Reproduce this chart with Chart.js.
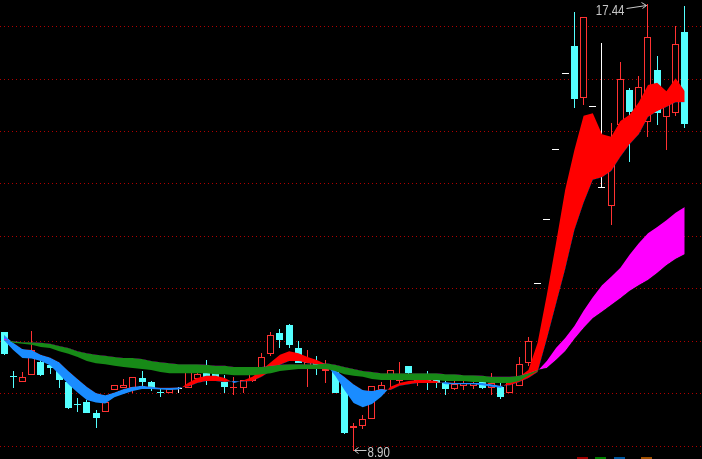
<!DOCTYPE html>
<html lang="zh">
<head>
<meta charset="UTF-8">
<title>日K线</title>
<script src="https://cdn.jsdelivr.net/npm/chart.js"></script>
<style>
  html, body { margin: 0; padding: 0; background: #000; }
  #wrap { width: 702px; height: 459px; }
</style>
</head>
<body>
<div id="wrap"><canvas id="kline" width="702" height="459"></canvas></div>
<script>
// daily prices (one entry per trading day)
const openPx = [11.18, 10.32, 10.22, 10.35, 10.60, 10.55, 10.45, 10.22, 9.80, 9.84,
  9.63, 9.65, 10.07, 10.11, 10.11, 10.30, 10.22, 10.03, 10.01, 10.09,
  10.11, 10.28, 10.41, 10.39, 10.22, 10.10, 10.11, 10.24, 10.49, 10.76,
  11.16, 11.31, 10.87, 10.49, 10.60, 10.43, 10.41, 10.16, 9.34, 9.38,
  9.52, 10.07, 10.28, 10.24, 10.53, 10.20, 10.32, 10.26, 10.20, 10.09,
  10.15, 10.15, 10.24, 10.11, 10.13, 10.01, 10.15, 10.58, 12.10, 13.31,
  14.64, 16.10, 16.63, 15.64, 15.47, 13.92, 13.58, 15.13, 15.79, 15.47,
  15.18, 16.18, 15.28, 15.36, 16.90];
const closePx = [10.76, 10.31, 10.32, 10.83, 10.35, 10.49, 10.26, 9.73, 9.79, 9.63,
  9.53, 9.84, 10.16, 10.16, 10.32, 10.22, 10.09, 10.02, 10.09, 10.09,
  10.41, 10.37, 10.26, 10.30, 10.13, 10.11, 10.26, 10.39, 10.70, 11.12,
  11.02, 10.93, 10.58, 10.60, 10.51, 10.47, 10.01, 9.25, 9.38, 9.52,
  10.15, 10.16, 10.45, 10.35, 10.39, 10.26, 10.20, 10.20, 10.09, 10.18,
  10.20, 10.20, 10.11, 10.20, 9.94, 10.20, 10.56, 11.00, 12.10, 13.31,
  14.64, 16.10, 15.62, 17.19, 15.47, 13.92, 14.90, 16.00, 15.37, 15.85,
  16.81, 15.35, 15.66, 16.67, 15.15];
const highPx = [11.18, 10.43, 10.41, 11.19, 10.64, 10.58, 10.49, 10.26, 9.92, 9.88,
  9.69, 9.84, 10.16, 10.28, 10.32, 10.43, 10.24, 10.09, 10.09, 10.13,
  10.45, 10.41, 10.64, 10.41, 10.35, 10.32, 10.26, 10.41, 10.77, 11.18,
  11.23, 11.33, 11.00, 10.83, 10.72, 10.64, 10.45, 10.20, 9.44, 9.59,
  10.15, 10.22, 10.45, 10.60, 10.53, 10.32, 10.43, 10.30, 10.26, 10.26,
  10.26, 10.28, 10.26, 10.39, 10.22, 10.32, 10.70, 11.08, 12.10, 13.31,
  14.64, 16.10, 17.28, 17.19, 15.47, 16.69, 15.17, 16.33, 15.83, 16.06,
  17.44, 16.44, 15.70, 17.02, 17.40];
const lowPx = [10.74, 10.11, 10.22, 10.35, 10.34, 10.37, 10.11, 9.71, 9.65, 9.63,
  9.34, 9.65, 10.07, 10.11, 10.01, 10.13, 10.05, 9.94, 10.01, 10.01,
  10.11, 10.26, 10.16, 10.28, 10.01, 9.97, 10.01, 10.22, 10.49, 10.72,
  10.87, 10.87, 10.58, 10.13, 10.35, 10.20, 10.01, 9.23, 8.90, 9.32,
  9.52, 9.99, 10.13, 10.16, 10.34, 10.15, 10.07, 10.11, 9.97, 10.07,
  10.07, 10.09, 10.09, 9.97, 9.90, 10.01, 10.15, 10.53, 12.10, 13.31,
  14.64, 16.10, 15.45, 15.50, 15.47, 13.92, 13.22, 15.08, 14.42, 15.37,
  14.90, 15.13, 14.65, 15.30, 15.07];

// short ribbon: red where fast > slow, blue otherwise
const shortFast = [11.02, 10.83, 10.68, 10.67, 10.62, 10.54, 10.37, 10.18, 10.02, 9.88,
  9.83, 9.81, 9.93, 9.99, 10.05, 10.09, 10.09, 10.08, 10.07, 10.08,
  10.20, 10.30, 10.34, 10.34, 10.30, 10.20, 10.25, 10.32, 10.45, 10.60,
  10.74, 10.81, 10.77, 10.70, 10.64, 10.56, 10.34, 10.07, 9.82, 9.74,
  9.80, 9.94, 10.13, 10.20, 10.24, 10.26, 10.26, 10.24, 10.18, 10.18,
  10.18, 10.18, 10.16, 10.13, 10.11, 10.24, 10.32, 10.45, 10.97, 11.88,
  12.87, 13.89, 14.65, 15.30, 15.35, 14.95, 14.90, 15.20, 15.32, 15.56,
  15.89, 15.93, 15.77, 16.02, 15.77];
const shortSlow = [11.12, 10.97, 10.85, 10.83, 10.74, 10.69, 10.60, 10.43, 10.28, 10.13,
  10.01, 9.97, 10.02, 10.09, 10.13, 10.15, 10.13, 10.11, 10.11, 10.12,
  10.13, 10.20, 10.24, 10.24, 10.22, 10.24, 10.23, 10.24, 10.32, 10.43,
  10.55, 10.62, 10.62, 10.58, 10.56, 10.53, 10.45, 10.32, 10.18, 10.07,
  10.05, 10.09, 10.07, 10.15, 10.18, 10.20, 10.20, 10.20, 10.22, 10.20,
  10.20, 10.20, 10.20, 10.18, 10.15, 10.16, 10.22, 10.30, 10.41, 11.04,
  11.71, 12.38, 13.12, 13.64, 14.08, 14.13, 14.25, 14.52, 14.76, 14.95,
  15.28, 15.39, 15.47, 15.56, 15.56];

// long ribbon: magenta where fast > slow, green otherwise
const longFast = [11.05, 10.97, 10.95, 10.93, 10.89, 10.87, 10.81, 10.76, 10.70, 10.62,
  10.58, 10.56, 10.53, 10.51, 10.49, 10.47, 10.45, 10.41, 10.39, 10.39,
  10.39, 10.39, 10.39, 10.37, 10.37, 10.35, 10.35, 10.35, 10.37, 10.39,
  10.43, 10.45, 10.47, 10.47, 10.47, 10.47, 10.43, 10.37, 10.34, 10.32,
  10.28, 10.26, 10.26, 10.26, 10.26, 10.26, 10.26, 10.26, 10.24, 10.24,
  10.24, 10.22, 10.22, 10.20, 10.20, 10.20, 10.24, 10.34, 10.43, 10.62,
  10.87, 11.06, 11.29, 11.58, 11.84, 12.07, 12.23, 12.40, 12.65, 12.87,
  13.06, 13.18, 13.31, 13.45, 13.56];
const longSlow = [11.02, 11.00, 10.98, 10.98, 10.97, 10.95, 10.91, 10.87, 10.81, 10.77,
  10.74, 10.72, 10.70, 10.68, 10.68, 10.66, 10.62, 10.60, 10.58, 10.56,
  10.56, 10.56, 10.55, 10.53, 10.53, 10.51, 10.51, 10.51, 10.51, 10.53,
  10.55, 10.56, 10.56, 10.56, 10.56, 10.58, 10.55, 10.51, 10.47, 10.43,
  10.41, 10.39, 10.39, 10.39, 10.39, 10.39, 10.39, 10.39, 10.37, 10.37,
  10.35, 10.35, 10.34, 10.32, 10.32, 10.32, 10.34, 10.39, 10.45, 10.49,
  10.64, 10.81, 11.04, 11.25, 11.44, 11.56, 11.69, 11.82, 11.96, 12.07,
  12.17, 12.30, 12.45, 12.57, 12.66];

// dotted guide lines
const gridLevels = [9, 10, 11, 12, 13, 14, 15, 16, 17];

const UP = '#ff3232', DOWN = '#54ffff', FLAT = '#ffffff';
const days = openPx.map((_, i) => i);
const pts = arr => arr.map((v, i) => ({ x: i, y: v }));

function candleColor(i) {
  if (i === undefined) return FLAT;
  if (closePx[i] > openPx[i]) return UP;
  if (closePx[i] < openPx[i]) return DOWN;
  return FLAT;
}

// keep candles on whole pixels like the original terminal
const snapBars = {
  id: 'snapBars',
  beforeDatasetsDraw(chart) {
    chart.getSortedVisibleDatasetMetas().forEach(meta => {
      if (meta.type !== 'bar') return;
      meta.data.forEach(el => {
        el.x = Math.floor(el.x) + 0.5;
        el.y = Math.round(el.y);
        el.base = Math.round(el.base);
      });
    });
  }
};

// max / min price markers and the clipped legend stubs at the bottom
const markLabels = {
  id: 'markLabels',
  afterDraw(chart) {
    const { ctx, scales: { x, y } } = chart;
    const hi = highPx.indexOf(Math.max(...highPx));
    const lo = lowPx.indexOf(Math.min(...lowPx));
    ctx.save();
    ctx.strokeStyle = '#c8c8c8';
    ctx.fillStyle = '#c8c8c8';
    ctx.lineWidth = 1;
    ctx.font = '14px "Liberation Sans", Arial, sans-serif';

    const hx = Math.floor(x.getPixelForValue(hi)) + 0.5;
    const hy = Math.round(y.getPixelForValue(highPx[hi])) + 0.5;
    ctx.beginPath();
    ctx.moveTo(hx - 21, hy + 4);
    ctx.lineTo(hx - 1, hy + 1);
    ctx.moveTo(hx - 1, hy + 1);
    ctx.lineTo(hx - 6, hy - 2);
    ctx.moveTo(hx - 1, hy + 1);
    ctx.lineTo(hx - 5, hy + 4);
    ctx.stroke();
    const hiText = highPx[hi].toFixed(2);
    const hw = ctx.measureText(hiText).width * 0.82;
    ctx.save();
    ctx.translate(hx - 23 - hw, hy + 10.5);
    ctx.scale(0.82, 1);
    ctx.fillText(hiText, 0, 0);
    ctx.restore();

    const lx = Math.floor(x.getPixelForValue(lo)) + 0.5;
    const ly = Math.round(y.getPixelForValue(lowPx[lo])) - 0.5;
    ctx.beginPath();
    ctx.moveTo(lx + 1, ly);
    ctx.lineTo(lx + 13, ly);
    ctx.moveTo(lx + 1, ly);
    ctx.lineTo(lx + 5, ly - 3);
    ctx.moveTo(lx + 1, ly);
    ctx.lineTo(lx + 5, ly + 3);
    ctx.stroke();
    ctx.save();
    ctx.translate(lx + 14, ly + 6.5);
    ctx.scale(0.82, 1);
    ctx.fillText(lowPx[lo].toFixed(2), 0, 0);
    ctx.restore();

    [['#a00000', 577], ['#008000', 595], ['#0058a0', 614], ['#a05000', 641]].forEach(([c, px]) => {
      ctx.fillStyle = c;
      ctx.fillRect(px, 457, 11, 2);
    });
    ctx.restore();
  }
};

const ribbonLine = { type: 'line', borderWidth: 0, borderColor: 'transparent', pointRadius: 0, tension: 0 };

new Chart(document.getElementById('kline'), {
  type: 'bar',
  data: {
    datasets: [
      Object.assign({}, ribbonLine, { data: pts(shortFast), fill: { target: '+1', above: '#ff0000', below: '#1a8cff' }, order: 2 }),
      Object.assign({}, ribbonLine, { data: pts(shortSlow), fill: false, order: 2 }),
      Object.assign({}, ribbonLine, { data: pts(longFast), fill: { target: '+1', above: '#ff00ff', below: '#178a17' }, order: 1 }),
      Object.assign({}, ribbonLine, { data: pts(longSlow), fill: false, order: 1 }),
      {
        // shadows
        type: 'bar',
        data: days.map(i => ({ x: i, y: [lowPx[i], highPx[i]] })),
        barThickness: 1,
        minBarLength: 1,
        grouped: false,
        inflateAmount: 0,
        borderWidth: 0,
        backgroundColor: c => candleColor(c.dataIndex),
        order: 6
      },
      {
        // bodies: hollow red up, filled cyan down
        type: 'bar',
        data: days.map(i => ({ x: i, y: [openPx[i], closePx[i]] })),
        barThickness: 7,
        minBarLength: 1,
        grouped: false,
        inflateAmount: 0,
        borderSkipped: false,
        borderWidth: c => (candleColor(c.dataIndex) === UP ? 1 : 0),
        borderColor: c => candleColor(c.dataIndex),
        backgroundColor: c => (candleColor(c.dataIndex) === UP ? '#000000' : candleColor(c.dataIndex)),
        order: 5
      }
    ]
  },
  options: {
    responsive: false,
    animation: false,
    events: [],
    layout: { padding: 0 },
    plugins: { legend: { display: false }, tooltip: { enabled: false } },
    scales: {
      x: { type: 'linear', min: -0.435, max: 75.87, offset: false, display: false },
      y: {
        type: 'linear',
        min: 8.752,
        max: 17.511,
        afterBuildTicks: s => { s.ticks = gridLevels.map(v => ({ value: v })); },
        ticks: { display: false },
        grid: { color: '#b00000', lineWidth: 1, drawTicks: false },
        border: { display: false, dash: [1, 3] }
      }
    }
  },
  plugins: [snapBars, markLabels]
});
</script>
</body>
</html>
